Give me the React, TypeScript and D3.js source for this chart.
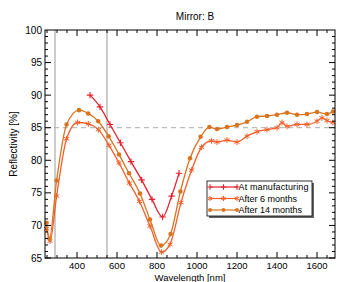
import React from "react";
import * as d3 from "d3";

// wavelength in nm, reflectivity in %
const manufWl = [465, 515, 565, 617, 670, 723, 775, 828, 873, 910];
const manufVal = [90.0, 88.2, 85.5, 82.7, 79.8, 77.0, 74.0, 71.3, 74.5, 78.0];

const sixWl = [248, 265, 298, 348, 403, 457, 507, 560, 610, 662, 712, 765, 823, 865, 920, 973, 1023, 1073,
  1100, 1150, 1200, 1250, 1300, 1350, 1400, 1425, 1450, 1500, 1550, 1600, 1625, 1650, 1680];
const sixVal = [69.5, 67.6, 74.5, 83.3, 85.8, 85.6, 84.7, 82.3, 79.6, 76.5, 73.7, 69.9, 65.9, 67.1, 73.5, 78.5, 82.0, 83.0,
  82.8, 83.1, 82.8, 83.7, 84.4, 84.7, 85.0, 85.8, 85.2, 85.5, 85.5, 86.0, 86.5, 86.1, 85.8];

const fourteenWl = [248, 262, 298, 348, 410, 456, 506, 558, 610, 660, 715, 765, 820, 868, 917, 965, 1018, 1062,
  1100, 1150, 1200, 1250, 1300, 1350, 1400, 1450, 1500, 1550, 1600, 1650, 1680];
const fourteenVal = [70.4, 68.0, 76.9, 85.5, 87.7, 87.2, 86.0, 83.7, 80.9, 78.0, 74.9, 70.9, 66.9, 68.7, 75.2, 80.3, 83.6, 85.1,
  84.8, 85.1, 85.4, 85.9, 86.7, 86.8, 87.0, 87.3, 87.0, 87.1, 87.4, 87.1, 87.5];

const xTickLabels = [400, 600, 800, 1000, 1200, 1400, 1600];
const yTickLabels = [65, 70, 75, 80, 85, 90, 95, 100];
const refLines = [290, 550];
const refLevel = 85;

const seriesNames = ["At manufacturing", "After 6 months", "After 14 months"];
const colors = ["#e8202e", "#f2602a", "#d8741f"];

const W = 338, H = 282;
const m = { left: 45, right: 3, top: 30, bottom: 24 };
const font = "Liberation Sans, Arial, sans-serif";

export default function App() {
  const x = d3.scaleLinear().domain([240, 1690]).range([m.left, W - m.right]);
  const y = d3.scaleLinear().domain([65, 100]).range([H - m.bottom, m.top]);
  const line = d3.line<[number, number]>()
    .x((d) => x(d[0]))
    .y((d) => y(d[1]))
    .curve(d3.curveMonotoneX);

  const series = [
    manufWl.map((w, i) => [w, manufVal[i]] as [number, number]),
    sixWl.map((w, i) => [w, sixVal[i]] as [number, number]),
    fourteenWl.map((w, i) => [w, fourteenVal[i]] as [number, number]),
  ];

  const [x0, x1] = x.range();
  const [y0, y1] = y.range();
  const xMinor = d3.range(250, 1690, 50);
  const yMinor = d3.range(65, 100, 1);

  const marker = (k: number, cx: number, cy: number, key: string, s = 1) => {
    const c = colors[k];
    if (k === 0) {
      const r = 3.2 * s;
      return <path key={key} d={`M${cx - r},${cy}H${cx + r}M${cx},${cy - r}V${cy + r}`} stroke={c} strokeWidth={1.1} />;
    }
    if (k === 1)
      return <path key={key} transform={`translate(${cx},${cy})`} d={d3.symbol(d3.symbolAsterisk, 24 * s * s)()!} stroke={c} strokeWidth={1} fill="none" />;
    return <path key={key} transform={`translate(${cx},${cy})`} d={d3.symbol(d3.symbolCircle, 16 * s * s)()!} fill={c} />;
  };

  const legX = 207, legY = 181, legW = 105, legH = 35;

  return (
    <svg width={W} height={H} style={{ position: "absolute", left: 0, top: 0 }} fontFamily={font}>
      <rect width={W} height={H} fill="#fff" />
      <text x={195} y={20} fontSize={10} textAnchor="middle">Mirror: B</text>

      {refLines.map((w) => (
        <line key={w} x1={x(w)} x2={x(w)} y1={y0} y2={y1} stroke="#999" strokeWidth={1} />
      ))}
      <line x1={x0} x2={x1} y1={y(refLevel)} y2={y(refLevel)} stroke="#aaa" strokeDasharray="5,4" />

      {series.map((s, k) => (
        <g key={k}>
          <path d={line(s)!} fill="none" stroke={colors[k]} strokeWidth={1.3} />
          {s.map((d, i) => marker(k, x(d[0]), y(d[1]), `${k}-${i}`))}
        </g>
      ))}

      {/* frame and ticks */}
      <rect x={x0} y={y1} width={x1 - x0} height={y0 - y1} fill="none" stroke="#000" strokeWidth={1} />
      {xMinor.map((w) => {
        const len = w % 200 === 0 ? 6 : 3;
        return (
          <g key={w}>
            <line x1={x(w)} x2={x(w)} y1={y0} y2={y0 - len} stroke="#000" />
            <line x1={x(w)} x2={x(w)} y1={y1} y2={y1 + len} stroke="#000" />
          </g>
        );
      })}
      {yMinor.map((v) => {
        const len = v % 5 === 0 ? 6 : 3;
        return (
          <g key={v}>
            <line x1={x0} x2={x0 + len} y1={y(v)} y2={y(v)} stroke="#000" />
            <line x1={x1} x2={x1 - len} y1={y(v)} y2={y(v)} stroke="#000" />
          </g>
        );
      })}
      {xTickLabels.map((w) => (
        <text key={w} x={x(w)} y={y0 + 10.5} fontSize={9.5} textAnchor="middle">{w}</text>
      ))}
      {yTickLabels.map((v) => (
        <text key={v} x={x0 - 3} y={y(v) + 3.5} fontSize={10} textAnchor="end">{v}</text>
      ))}
      <text x={190} y={H - 1.5} fontSize={9.5} textAnchor="middle">Wavelength [nm]</text>
      <text transform={`translate(17,${(y0 + y1) / 2}) rotate(-90)`} fontSize={10} textAnchor="middle">Reflectivity [%]</text>

      {/* legend */}
      <rect x={legX + 2} y={legY + 2} width={legW} height={legH} fill="#666" />
      <rect x={legX} y={legY} width={legW} height={legH} fill="#fff" stroke="#000" strokeWidth={0.8} />
      {seriesNames.map((name, k) => {
        const ly = legY + 6 + k * 11.5;
        const lx0 = legX + 3, lx1 = legX + 30;
        return (
          <g key={name}>
            <line x1={lx0} x2={lx1} y1={ly} y2={ly} stroke={colors[k]} strokeWidth={1.2} />
            {[lx0, (lx0 + lx1) / 2, lx1].map((px, i) => marker(k, px, ly, `l${k}-${i}`, 0.85))}
            <text x={lx1 + 1.5} y={ly + 3.3} fontSize={9} textLength={k === 0 ? 70 : undefined}>{name}</text>
          </g>
        );
      })}
    </svg>
  );
}
